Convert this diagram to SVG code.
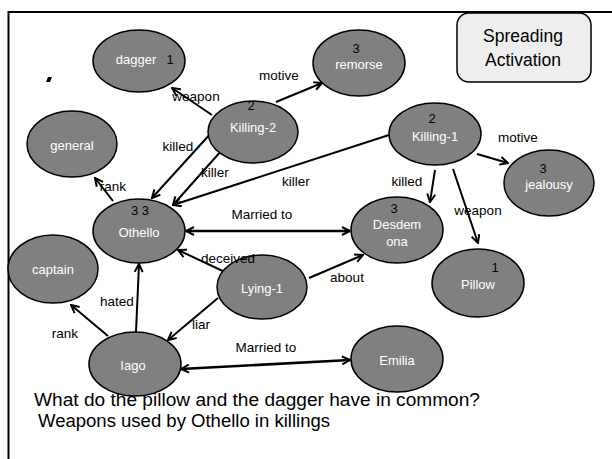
<svg xmlns="http://www.w3.org/2000/svg" width="612" height="459" viewBox="0 0 612 459">
<style>
.nd{fill:#808080;stroke:#000;stroke-width:1.5}
.nl{font-family:"Liberation Sans",Arial,sans-serif;font-size:13px;fill:#fff;text-anchor:middle}
.nn{font-family:"Liberation Sans",Arial,sans-serif;font-size:13px;fill:#000;text-anchor:middle}
.el{font-family:"Liberation Sans",Arial,sans-serif;font-size:13.5px;fill:#000;text-anchor:middle}
.e{fill:none;stroke:#000;stroke-width:2;marker-end:url(#ah)}
.b{stroke-width:2.6;marker-start:url(#ah)}
.q{font-family:"Liberation Sans",Arial,sans-serif;font-size:17.5px;fill:#000}
</style>
<defs>
<marker id="ah" viewBox="0 0 10 10" refX="9" refY="5" markerWidth="10" markerHeight="10" markerUnits="userSpaceOnUse" orient="auto-start-reverse">
<path d="M1,1 L9,5 L1,9" fill="none" stroke="#000" stroke-width="2"/>
</marker>
</defs>
<rect width="612" height="459" fill="#fff"/>
<path d="M8.5,459 V12 H612" fill="none" stroke="#000" stroke-width="2"/>
<polygon points="48,77 52,77 50,82 46,82" fill="#000"/>
<g id="connectors">
<line class="e" x1="212" y1="115" x2="172" y2="88"/>
<line class="e" x1="276" y1="102" x2="322" y2="83"/>
<line class="e" x1="212" y1="132" x2="152" y2="198"/>
<line class="e" x1="222" y1="150" x2="173" y2="205"/>
<line class="e" x1="389" y1="135" x2="173" y2="205"/>
<line class="e b" x1="186" y1="231" x2="350" y2="231"/>
<line class="e" x1="227" y1="273" x2="178" y2="250"/>
<line class="e" x1="309" y1="278" x2="363" y2="255"/>
<line class="e" x1="218" y1="298" x2="168" y2="340"/>
<line class="e" x1="136" y1="332" x2="139" y2="264"/>
<line class="e" x1="108" y1="336" x2="71" y2="305"/>
<line class="e" x1="113" y1="201" x2="95" y2="178"/>
<line class="e b" x1="181" y1="369" x2="350" y2="360"/>
<line class="e" x1="435" y1="170" x2="430" y2="202"/>
<line class="e" x1="453" y1="169" x2="478" y2="243"/>
<line class="e" x1="477" y1="154" x2="508" y2="163"/>
</g>
<g id="dagger"><ellipse class="nd" cx="139" cy="61" rx="46" ry="31"/><text class="nl" x="136" y="64">dagger</text><text class="nn" x="170" y="64">1</text></g>
<g id="killing2"><ellipse class="nd" cx="253" cy="132" rx="45" ry="31"/><text class="nn" x="251" y="110">2</text><text class="nl" x="253" y="132">Killing-2</text></g>
<g id="remorse"><ellipse class="nd" cx="359" cy="63" rx="46" ry="33"/><text class="nn" x="356" y="53">3</text><text class="nl" x="359" y="69">remorse</text></g>
<g id="general"><ellipse class="nd" cx="72" cy="144" rx="45" ry="33"/><text class="nl" x="72" y="150">general</text></g>
<g id="killing1"><ellipse class="nd" cx="435" cy="134" rx="46" ry="31"/><text class="nn" x="432" y="123">2</text><text class="nl" x="435" y="141">Killing-1</text></g>
<g id="jealousy"><ellipse class="nd" cx="549" cy="183" rx="45" ry="33"/><text class="nn" x="543" y="173">3</text><text class="nl" x="549" y="189">jealousy</text></g>
<g id="othello"><ellipse class="nd" cx="139" cy="231" rx="46" ry="32"/><text class="nn" x="140" y="215">3 3</text><text class="nl" x="139" y="237">Othello</text></g>
<g id="captain"><ellipse class="nd" cx="53" cy="269" rx="45" ry="34"/><text class="nl" x="53" y="274">captain</text></g>
<g id="lying1"><ellipse class="nd" cx="262" cy="287" rx="45" ry="32"/><text class="nl" x="262" y="293">Lying-1</text></g>
<g id="iago"><ellipse class="nd" cx="135" cy="364" rx="46" ry="32"/><text class="nl" x="133" y="370">Iago</text></g>
<g id="desdemona"><ellipse class="nd" cx="397" cy="230" rx="46" ry="33"/><text class="nn" x="394" y="213">3</text><text class="nl" x="397" y="229">Desdem</text><text class="nl" x="397" y="246">ona</text></g>
<g id="pillow"><ellipse class="nd" cx="478" cy="283" rx="46" ry="34"/><text class="nn" x="495" y="272">1</text><text class="nl" x="478" y="289">Pillow</text></g>
<g id="emilia"><ellipse class="nd" cx="397" cy="359" rx="46" ry="33"/><text class="nl" x="397" y="365">Emilia</text></g>
<g id="edge-labels">
<text class="el" x="196" y="101">weapon</text>
<text class="el" x="279" y="80">motive</text>
<text class="el" x="178" y="151">killed</text>
<text class="el" x="215" y="177">killer</text>
<text class="el" x="296" y="186">killer</text>
<text class="el" x="262" y="219">Married to</text>
<text class="el" x="228" y="263">deceived</text>
<text class="el" x="347" y="282">about</text>
<text class="el" x="201" y="329">liar</text>
<text class="el" x="117" y="306">hated</text>
<text class="el" x="65" y="338">rank</text>
<text class="el" x="113" y="191">rank</text>
<text class="el" x="266" y="352">Married to</text>
<text class="el" x="407" y="186">killed</text>
<text class="el" x="478" y="215">weapon</text>
<text class="el" x="518" y="142">motive</text>
</g>
<g id="title"><rect x="457" y="13" width="134" height="69" rx="12" fill="#eeeeee" stroke="#000" stroke-width="1.5"/><text class="q" x="523" y="42" text-anchor="middle" font-size="18">Spreading</text><text class="q" x="523" y="66" text-anchor="middle" font-size="18">Activation</text></g>
<text class="q" x="34" y="406" textLength="446" lengthAdjust="spacingAndGlyphs">What do the pillow and the dagger have in common?</text>
<text class="q" x="38" y="427" textLength="292" lengthAdjust="spacingAndGlyphs">Weapons used by Othello in killings</text>
</svg>
